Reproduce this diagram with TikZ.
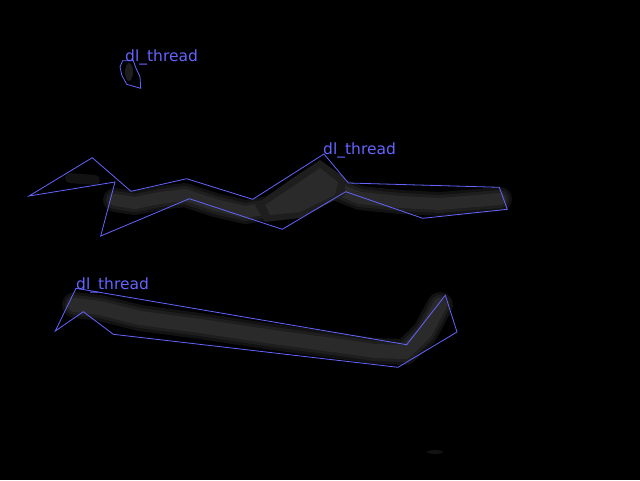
\documentclass[tikz,border=0pt]{standalone}
\usepackage{fontspec}
\setmainfont{DejaVu Sans}
\definecolor{outl}{RGB}{100,100,255}
\definecolor{g1}{RGB}{18,18,18}
\definecolor{g2}{RGB}{30,30,30}
\definecolor{g3}{RGB}{42,42,42}
\begin{document}
\begin{tikzpicture}[x=1pt,y=-1pt,
  poly/.style={draw=outl,line width=0.8pt,line join=miter},
  lbl/.style={text=outl,font=\fontsize{15.5}{15.5}\selectfont,anchor=base west,inner sep=0pt},
  soft1/.style={draw=g1,line cap=round,line join=round},
  soft2/.style={draw=g2,line cap=round,line join=round},
  soft3/.style={draw=g3,line cap=round,line join=round}]
\fill[black] (0,0) rectangle (640,480);
\useasboundingbox (0,0) rectangle (640,480);
% ---- gray threads (soft) ----
\def\threadA{(115,200) -- (135,203) -- (160,198) -- (185,195) -- (215,205) -- (245,212) -- (270,208) -- (300,190) -- (320,178) -- (340,190) -- (360,198) -- (400,202) -- (440,204) -- (500,199)}
\draw[soft1,line width=24pt] \threadA;
\draw[soft2,line width=18pt] \threadA;
\draw[soft3,line width=12pt] \threadA;
\fill[g2] (255,205) -- (290,180) -- (320,160) -- (345,178) -- (345,195) -- (300,218) -- (265,222) -- cycle;
\fill[g3] (265,205) -- (295,185) -- (320,168) -- (338,182) -- (335,195) -- (300,212) -- (270,215) -- cycle;
\draw[soft1,line width=10pt] (70,178) -- (95,180);
\def\threadB{(75,305) -- (100,308) -- (140,318) -- (200,326) -- (273,337) -- (340,346) -- (375,351) -- (405,352) -- (425,333) -- (440,305)}
\draw[soft1,line width=26pt] \threadB;
\draw[soft2,line width=20pt] \threadB;
\draw[soft3,line width=14pt] \threadB;
\fill[g2] (129,72) ellipse (4 and 9);
\fill[g1] (435,452) ellipse (8 and 2);
% ---- outlines ----
\draw[poly] (29,196) -- (92.3,157.7) -- (131,191.3) -- (186.7,178.7) -- (252.7,199.3) -- (324,154) -- (348.3,183) -- (499.3,187.3) -- (507.3,209.3) -- (422.7,218.3) -- (345.7,191.7) -- (282.3,229.3) -- (189.3,198.7) -- (100.7,236) -- (115,182) -- cycle;
\draw[poly] (76,288.3) -- (406.7,344.7) -- (445.3,295.3) -- (457,332) -- (398,367.3) -- (113.3,334.3) -- (83.3,311.7) -- (55.3,331) -- cycle;
\draw[poly] (122.7,60.7) -- (133.3,60.7) -- (136,68.3) -- (140,76.7) -- (140.7,88.3) -- (135,86.7) -- (126.7,84.3) -- (121.7,75) -- (120,66.7) -- cycle;
% ---- labels ----
\node[lbl] (l1) at (125,61) {dl\_thread};
\node[lbl] (l2) at (323,154) {dl\_thread};
\node[lbl] (l3) at (76,289) {dl\_thread};
\end{tikzpicture}
\end{document}
